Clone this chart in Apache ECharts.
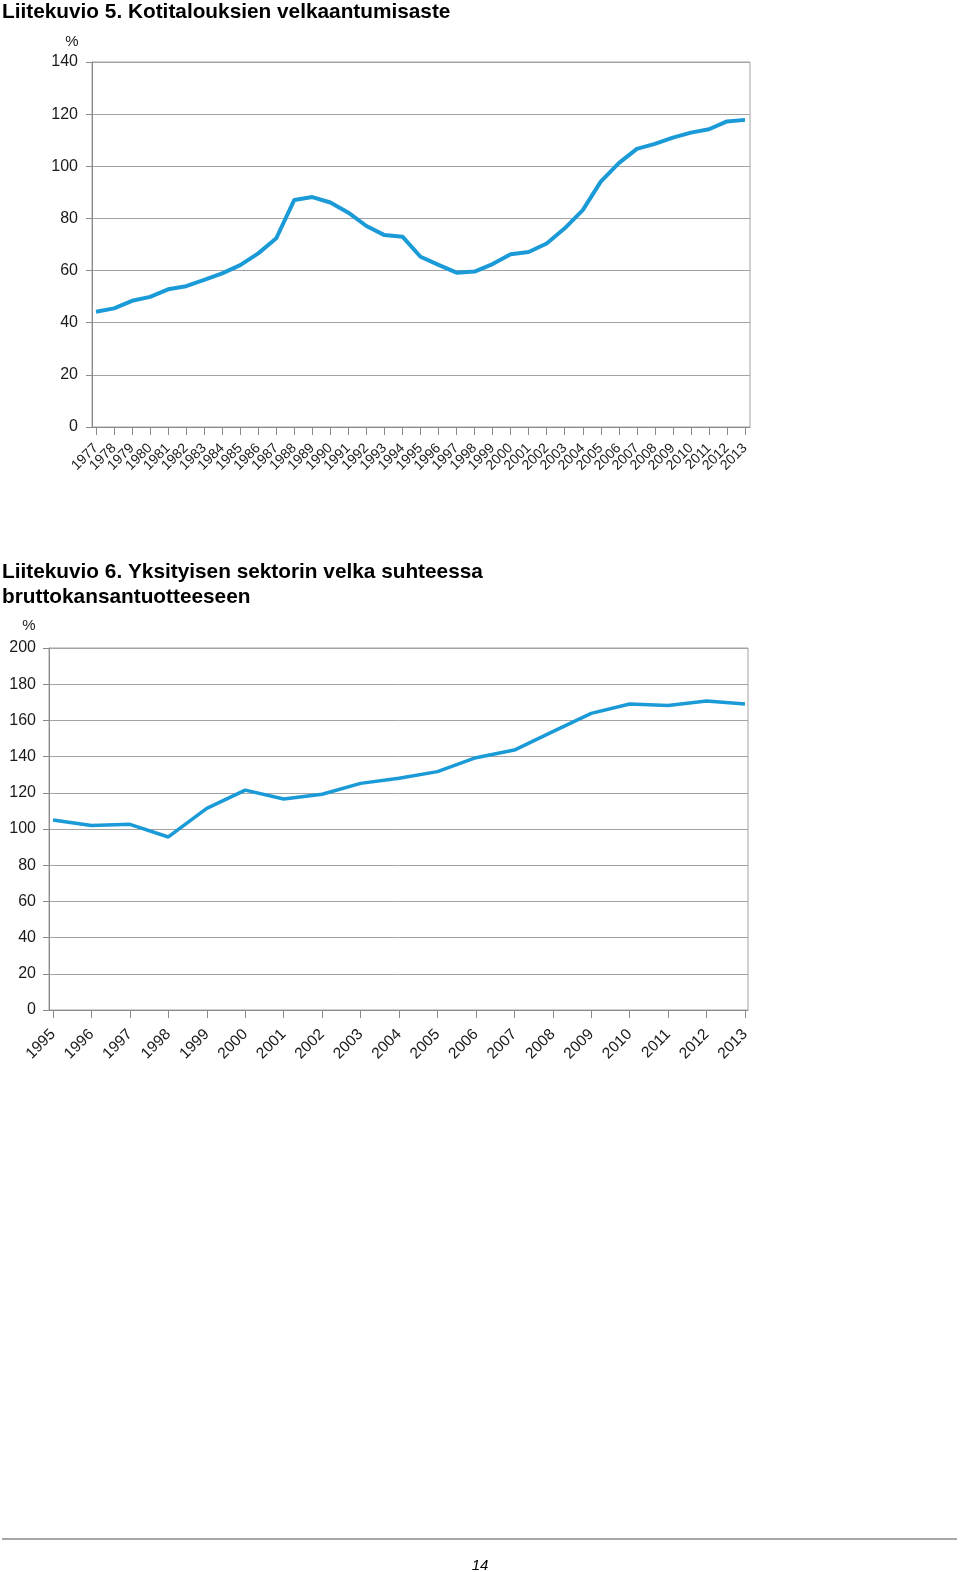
<!DOCTYPE html>
<html>
<head>
<meta charset="utf-8">
<script src="https://cdn.jsdelivr.net/npm/echarts@6/dist/echarts.min.js"></script>
<style>
html,body{margin:0;padding:0;background:#fff;}
#c{width:960px;height:1572px;}
</style>
</head>
<body>
<div id="c"></div>
<script>
// Chart 1: Kotitalouksien velkaantumisaste
const years1 = ['1977','1978','1979','1980','1981','1982','1983','1984','1985','1986','1987','1988','1989','1990','1991','1992','1993','1994','1995','1996','1997','1998','1999','2000','2001','2002','2003','2004','2005','2006','2007','2008','2009','2010','2011','2012','2013'];
const values1 = [44.2,45.5,48.4,49.9,52.8,54.0,56.4,58.9,62.1,66.6,72.4,87.1,88.2,86.1,82.2,77.1,73.6,73.0,65.3,62.2,59.2,59.6,62.5,66.3,67.1,70.4,76.2,83.2,94.1,101.2,106.7,108.6,111.0,112.9,114.2,117.2,117.8];
const yTicks1 = [0,20,40,60,80,100,120,140];

// Chart 2: Yksityisen sektorin velka suhteessa BKT:hen
const years2 = ['1995','1996','1997','1998','1999','2000','2001','2002','2003','2004','2005','2006','2007','2008','2009','2010','2011','2012','2013'];
const values2 = [105.0,101.9,102.6,95.6,111.4,121.5,116.6,119.2,125.2,128.0,131.7,139.4,143.6,153.8,163.9,169.1,168.2,170.7,169.1];
const yTicks2 = [0,20,40,60,80,100,120,140,160,180,200];

const FONT = 'Liberation Sans, Arial, sans-serif';
const LINE = '#1a9ad6';
const GRID_C = '#a3a3a3';
const AXIS_C = '#8a8a8a';

const chart = echarts.init(document.getElementById('c'), null, {renderer:'canvas'});

function frameY(ticks, gi, margin){
  return {
    gridIndex: gi, type:'value', min:ticks[0], max:ticks[ticks.length-1], interval:ticks[1]-ticks[0],
    axisLine:{show:true, lineStyle:{color:AXIS_C, width:1}},
    axisTick:{show:true, length:6, lineStyle:{color:AXIS_C}},
    axisLabel:{color:'#1a1a1a', fontSize:16, fontFamily:FONT, margin:margin},
    splitLine:{show:true, lineStyle:{color:GRID_C, width:1}}
  };
}
function frameX(gi){
  return {
    gridIndex: gi, type:'value', min:0, max:1,
    axisLine:{show:true, onZero:false, lineStyle:{color:AXIS_C, width:1}},
    axisTick:{show:false}, axisLabel:{show:false}, splitLine:{show:false}
  };
}
function dataX(gi, cats, margin, fs){
  return {
    gridIndex: gi, type:'category', data:cats, boundaryGap:false,
    axisLine:{show:false},
    axisTick:{show:true, interval:0, length:8, lineStyle:{color:AXIS_C}},
    axisLabel:{interval:0, rotate:45, color:'#1a1a1a', fontSize:fs, fontFamily:FONT, margin:margin},
    splitLine:{show:false}
  };
}
function dataY(gi, ticks){
  return {gridIndex: gi, type:'value', min:ticks[0], max:ticks[ticks.length-1], show:false, splitLine:{show:false}};
}

const option = {
  animation:false,
  backgroundColor:'#fff',
  grid:[
    {left:92, top:62, width:658, height:365, show:true, borderColor:GRID_C, borderWidth:1, containLabel:false},
    {left:96, top:62, width:649, height:365, containLabel:false},
    {left:49, top:648, width:699, height:362, show:true, borderColor:GRID_C, borderWidth:1, containLabel:false},
    {left:53, top:648, width:692, height:362, containLabel:false}
  ],
  xAxis:[frameX(0), dataX(1, years1, 19, 14), frameX(2), dataX(3, years2, 22, 15.5)],
  yAxis:[frameY(yTicks1,0,14), dataY(1,yTicks1), frameY(yTicks2,2,13), dataY(3,yTicks2)],
  series:[
    {type:'line', xAxisIndex:1, yAxisIndex:1, data:values1, symbol:'none', smooth:false,
      lineStyle:{color:LINE, width:4}},
    {type:'line', xAxisIndex:3, yAxisIndex:3, data:values2, symbol:'none', smooth:false,
      lineStyle:{color:LINE, width:3.5}}
  ],
  graphic:[
    {type:'text', left:2, top:2, style:{text:'Liitekuvio 5. Kotitalouksien velkaantumisaste', font:'bold 20.8px '+FONT, fill:'#000'}},
    {type:'text', left:2, top:560, style:{text:'Liitekuvio 6. Yksityisen sektorin velka suhteessa\nbruttokansantuotteeseen', font:'bold 20.8px '+FONT, fill:'#000', lineHeight:25}},
    {type:'text', x:72, y:42, style:{text:'%', font:'15px '+FONT, fill:'#1a1a1a', align:'center', verticalAlign:'middle'}},
    {type:'text', x:29, y:626, style:{text:'%', font:'15px '+FONT, fill:'#1a1a1a', align:'center', verticalAlign:'middle'}},
    {type:'line', shape:{x1:2, y1:1539, x2:957, y2:1539}, style:{stroke:'#8a8a8a', lineWidth:1.5}},
    {type:'text', x:480, y:1566, style:{text:'14', font:'italic 15px '+FONT, fill:'#000', align:'center', verticalAlign:'middle'}}
  ]
};
chart.setOption(option);
</script>
</body>
</html>
